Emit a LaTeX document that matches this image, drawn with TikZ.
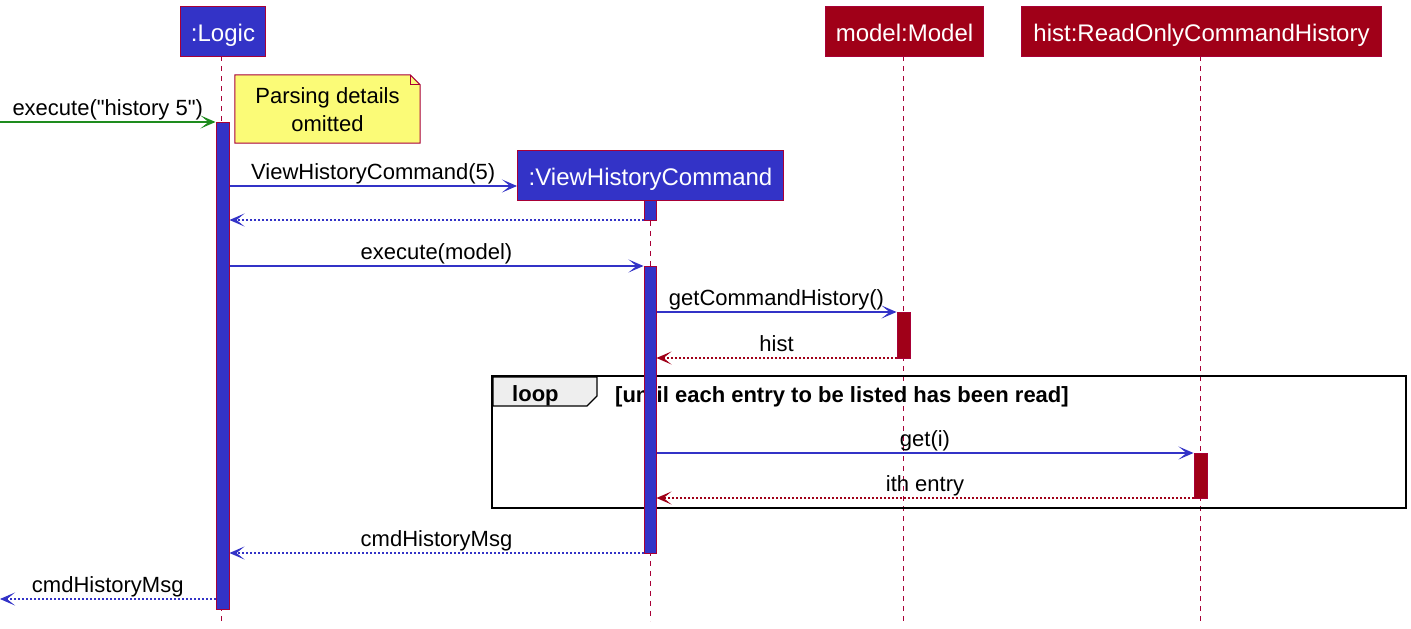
\documentclass[tikz,border=0pt]{standalone}
\usepackage{fontspec}
\setmainfont{Liberation Sans}[Ligatures=TeXOff]
\usetikzlibrary{arrows.meta,calc}
\definecolor{pblue}{HTML}{3333C7}
\definecolor{pcrim}{HTML}{A80036}
\definecolor{pred}{HTML}{A00018}
\definecolor{pgreen}{HTML}{1E8C1E}
\definecolor{pnote}{HTML}{FBFB77}
\definecolor{ptab}{HTML}{EEEEEE}
\tikzset{
  participant/.style={draw=pcrim, line width=1pt, text=white, font=\fontsize{24}{28}\selectfont, inner sep=0pt, minimum height=50pt, text height=20pt, text depth=0pt, anchor=north west},
  lifeline/.style={pcrim, line width=1pt, dash pattern=on 5pt off 5pt},
  actbox/.style={draw=pcrim, line width=1pt, inner sep=0pt, minimum width=12pt, anchor=north},
  msg/.style={line width=1.1pt, -{Stealth[length=15pt,width=13pt,inset=8pt]}},
  ret/.style={msg, dash pattern=on 2pt off 2pt},
  lbl/.style={font=\fontsize{22}{26}\selectfont, anchor=base, inner sep=0pt},
}
\begin{document}
\begin{tikzpicture}[x=1pt,y=-1pt]
\useasboundingbox (0,0) rectangle (1411,629);
% participants
\node[participant, fill=pblue, minimum width=85pt] (logic) at (180,6) {:Logic};
\node[participant, fill=pred, minimum width=158pt] (model) at (825,6) {model:Model};
\node[participant, fill=pred, minimum width=360pt] (hist) at (1021,6) {hist:ReadOnlyCommandHistory};
\node[participant, fill=pblue, minimum width=266pt] (vhc) at (517,150) {:ViewHistoryCommand};
% lifeline ends
\coordinate (endL) at (221,621);
\coordinate (endV) at (650,621);
\coordinate (endM) at (903,621);
\coordinate (endH) at (1200,621);
\draw[lifeline] (221,56) -- (endL);
\draw[lifeline] (vhc.south -| endV) -- (endV);
\draw[lifeline] (903,56) -- (endM);
\draw[lifeline] (1200,56) -- (endH);
% note
\node[font=\fontsize{22}{28}\selectfont, align=center, inner sep=0pt, minimum width=185pt, minimum height=68pt] (note) at (327.5,109) {};
\draw[pcrim, fill=pnote, line width=1pt] (note.north west) -- ($(note.north east)+(-10,0)$) -- ($(note.north east)+(0,10)$) -- (note.south east) -- (note.south west) -- cycle;
\draw[pcrim, line width=1pt] ($(note.north east)+(-10,0)$) -- ($(note.north east)+(-10,10)$) -- ($(note.north east)+(0,10)$);
\node[font=\fontsize{22}{28}\selectfont, align=center, inner sep=0pt] (notetext) at ($(note.center)+(0,1)$) {Parsing details\\omitted};
% loop frame
\draw[line width=2.8pt] (492,376) rectangle (1406,508);
\draw[fill=ptab, line width=1.2pt] (493,377) -- (597,377) -- (597,396) -- (587,406) -- (493,406) -- cycle;
\node[lbl, anchor=base west, font=\fontsize{22}{26}\selectfont\bfseries] (looplbl) at (512,401) {loop};
\node[lbl, anchor=base west, font=\fontsize{22}{26}\selectfont\bfseries] (cond) at (615,402) {[until each entry to be listed has been read]};
% activations
\node[actbox, fill=pblue, minimum width=13pt, minimum height=487pt] (aL) at (222.5,122) {};
\node[actbox, fill=pblue, minimum height=20pt] (aV1) at (650.5,200) {};
\node[actbox, fill=pblue, minimum height=287pt] (aV2) at (650,266) {};
\node[actbox, fill=pred, minimum width=13pt, minimum height=46pt] (aM) at (903.5,312) {};
\node[actbox, fill=pred, minimum width=13pt, minimum height=45pt] (aH) at (1200.5,453) {};
% rows
\coordinate (start) at (0,122);
\coordinate (r2) at (0,186);
\coordinate (r3) at (0,220);
\coordinate (r4) at (0,266);
\coordinate (r5) at (0,312);
\coordinate (r6) at (0,358);
\coordinate (r7) at (0,453);
\coordinate (r8) at (0,498);
\coordinate (r9) at (0,553);
\coordinate (out) at (0,599);
% messages
\draw[msg, pgreen] (start) -- node[lbl, black, pos=0.5, yshift=7pt, anchor=base] {execute("history 5")} (aL.west |- start);
\draw[msg, pblue] (aL.east |- r2) -- node[lbl, black, yshift=7pt] {ViewHistoryCommand(5)} (vhc.west |- r2);
\draw[ret, pblue] (aV1.west |- r3) -- (aL.east |- r3);
\draw[msg, pblue] (aL.east |- r4) -- node[lbl, black, yshift=7pt] {execute(model)} (aV2.north west);
\draw[msg, pblue] (aV2.east |- r5) -- node[lbl, black, yshift=7pt] {getCommandHistory()} (aM.north west);
\draw[ret, pred] (aM.west |- r6) -- node[lbl, black, yshift=7pt] {hist} (aV2.east |- r6);
\draw[msg, pblue] (aV2.east |- r7) -- node[lbl, black, yshift=7pt] {get(i)} (aH.north west);
\draw[ret, pred] (aH.west |- r8) -- node[lbl, black, yshift=7pt] {ith entry} (aV2.east |- r8);
\draw[ret, pblue] (aV2.west |- r9) -- node[lbl, black, yshift=7pt] {cmdHistoryMsg} (aL.east |- r9);
\draw[ret, pblue] (aL.west |- out) -- node[lbl, black, yshift=7pt] {cmdHistoryMsg} (out);
\end{tikzpicture}
\end{document}
